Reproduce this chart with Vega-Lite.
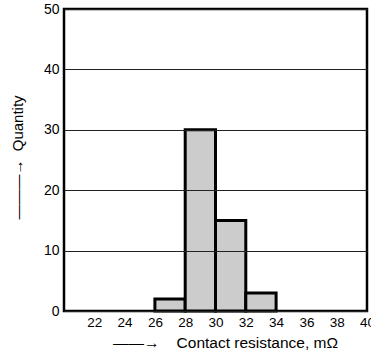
{
  "$schema": "https://vega.github.io/schema/vega-lite/v6.json",
  "autosize": "none",
  "width": 303,
  "height": 302,
  "padding": {"left": 64, "top": 9, "right": 4, "bottom": 46},
  "config": {
    "font": "Liberation Sans",
    "view": {"stroke": "black", "strokeWidth": 2.5}
  },
  "data": {
    "values": [
      {"bin_start": 26, "bin_end": 28, "quantity": 2},
      {"bin_start": 28, "bin_end": 30, "quantity": 30},
      {"bin_start": 30, "bin_end": 32, "quantity": 15},
      {"bin_start": 32, "bin_end": 34, "quantity": 3}
    ]
  },
  "mark": {"type": "rect", "fill": "#cccccc", "stroke": "black", "strokeWidth": 3},
  "encoding": {
    "x": {
      "field": "bin_start",
      "type": "quantitative",
      "scale": {"domain": [20, 40], "nice": false, "zero": false},
      "axis": {
        "values": [22, 24, 26, 28, 30, 32, 34, 36, 38, 40],
        "grid": false,
        "ticks": false,
        "domain": false,
        "labelFontSize": 13.5,
        "labelColor": "black",
        "labelPadding": 4,
        "labelFlush": false,
        "title": "——→\u00a0\u00a0\u00a0\u00a0Contact resistance, mΩ",
        "titleFontSize": 15.5,
        "titleFontWeight": "normal",
        "titleColor": "black",
        "titlePadding": 7,
        "titleX": 161
      }
    },
    "x2": {"field": "bin_end"},
    "y": {
      "field": "quantity",
      "type": "quantitative",
      "scale": {"domain": [0, 50], "nice": false},
      "axis": {
        "values": [0, 10, 20, 30, 40, 50],
        "grid": true,
        "gridColor": "#222222",
        "gridWidth": 1,
        "ticks": false,
        "domain": false,
        "zindex": 1,
        "labelFontSize": 14,
        "labelColor": "black",
        "labelPadding": 5,
        "labelFlush": false,
        "title": "———→\u00a0\u00a0Quantity",
        "titleFontSize": 15,
        "titleFontWeight": "normal",
        "titleColor": "black",
        "titlePadding": 18,
        "titleY": 148
      }
    },
    "y2": {"datum": 0}
  }
}
